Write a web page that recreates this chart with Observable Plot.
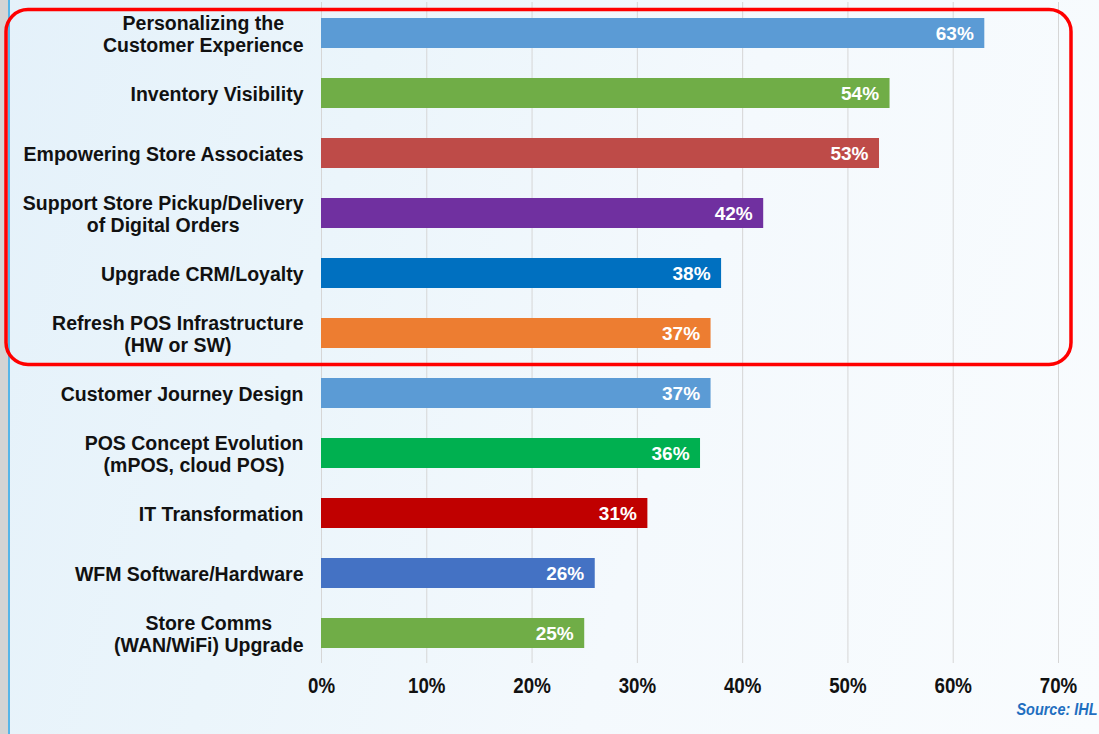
<!DOCTYPE html>
<html>
<head>
<meta charset="utf-8">
<script src="https://cdn.jsdelivr.net/npm/d3@7"></script>
<script src="https://cdn.jsdelivr.net/npm/@observablehq/plot@0.6"></script>
<style>
  html, body { margin: 0; padding: 0; width: 1099px; height: 734px; overflow: hidden; }
  body {
    background: linear-gradient(105deg, #e4f1fa 0%, #ebf5fb 30%, #f4f9fd 60%, #f9fcfe 100%);
    font-family: "Liberation Sans", Arial, sans-serif;
    position: relative;
  }
  #strip { position: absolute; left: 0; top: 0; width: 8px; height: 734px; background: #d4d4d4; }
  #strip2 { position: absolute; left: 8px; top: 0; width: 2px; height: 734px; background: #56b5e8; }
  #chart { position: absolute; left: 0; top: 0; }
  #chart svg { background: transparent; overflow: visible; }
</style>
</head>
<body>
<div id="strip"></div><div id="strip2"></div>
<div id="chart"></div>
<script>
const categories = [
  "Personalizing the\nCustomer Experience",
  "Inventory Visibility",
  "Empowering Store Associates",
  "Support Store Pickup/Delivery\nof Digital Orders",
  "Upgrade CRM/Loyalty",
  "Refresh POS Infrastructure\n(HW or SW)",
  "Customer Journey Design",
  "POS Concept Evolution\n(mPOS, cloud POS)",
  "IT Transformation",
  "WFM Software/Hardware",
  "Store Comms\n(WAN/WiFi) Upgrade"
];
const values = [63, 54, 53, 42, 38, 37, 37, 36, 31, 26, 25];
const colors = ["#5b9bd5", "#70ad47", "#be4b48", "#7030a0", "#0070c0", "#ed7d31",
                "#5b9bd5", "#00b050", "#c00000", "#4472c4", "#70ad47"];
const xTicks = [0, 10, 20, 30, 40, 50, 60, 70];
const highlighted = 6; // first six categories are circled
const sourceText = "Source: IHL";

const data = categories.map((c, i) => ({category: c, value: values[i], color: colors[i]}));

const highlightBox = (index, scales, values_, dims) => {
  const y = scales.y;
  const gap = (y.step() - y.bandwidth()) / 2;
  const y0 = y(categories[0]) - gap;
  const y1 = y(categories[highlighted - 1]) + y.bandwidth() + gap;
  const r = document.createElementNS("http://www.w3.org/2000/svg", "rect");
  r.setAttribute("x", 6);
  r.setAttribute("y", y0 + 6.5);
  r.setAttribute("width", dims.width - 28 - 6);
  r.setAttribute("height", (y1 + 1.5) - (y0 + 6.5));
  r.setAttribute("rx", 22);
  r.setAttribute("fill", "none");
  r.setAttribute("stroke", "#ff0000");
  r.setAttribute("stroke-width", 3.5);
  return r;
};

const chart = Plot.plot({
  width: 1099,
  height: 734,
  marginLeft: 321,
  marginRight: 41,
  marginTop: 2,
  marginBottom: 71,
  style: {background: "transparent", overflow: "visible"},
  x: {domain: [0, 70], axis: null},
  y: {domain: categories, paddingInner: 0.5, paddingOuter: 0.25, axis: null},
  marks: [
    Plot.gridX(xTicks, {stroke: "#d6d6d6", strokeOpacity: 1, strokeWidth: 1}),
    Plot.barX(data, {y: "category", x: "value", fill: "color"}),
    Plot.text(data, {
      y: "category", x: "value", text: d => d.value + "%",
      textAnchor: "end", dx: -11, fill: "white",
      fontSize: 19, fontWeight: "bold", fontFamily: "'Liberation Sans', Arial, sans-serif"
    }),
    Plot.text(data, {
      y: "category", text: "category", frameAnchor: "left",
      textAnchor: "end", dx: -18, lineHeight: 1.13, fill: "#111",
      fontSize: 19.5, fontWeight: "bold", fontFamily: "'Liberation Sans', Arial, sans-serif",
      className: "catlabel"
    }),
    Plot.axisX(xTicks, {
      tickSize: 0, tickPadding: 14, tickFormat: d => d + "%", label: null,
      fontSize: 22, fontWeight: "bold", fill: "#111",
      fontFamily: "'Liberation Sans', Arial, sans-serif",
      className: "xticks"
    }),
    Plot.text([sourceText], {
      frameAnchor: "bottom-right", text: d => d, textAnchor: "end",
      dx: 39, dy: 51, fill: "#1f6fc0", fontSize: 17, fontWeight: "bold", fontStyle: "italic",
      fontFamily: "'Liberation Sans', Arial, sans-serif",
      className: "source"
    }),
    highlightBox
  ]
});

document.getElementById("chart").appendChild(chart);

// center the lines of multi-line category labels, keeping the block right-aligned
chart.querySelectorAll("g.catlabel text").forEach(t => {
  const spans = t.querySelectorAll("tspan");
  if (spans.length > 1) {
    const widths = Array.from(spans, s => s.getComputedTextLength());
    const W = Math.max(...widths);
    spans.forEach((s, i) => s.setAttribute("x", -(W - widths[i]) / 2));
  }
});
// narrow (condensed) look for the axis ticks and the source note
chart.querySelectorAll("g.xticks text, g.source text").forEach(t => {
  const tr = t.getAttribute("transform") || "";
  t.setAttribute("transform", tr + " scale(0.85,1)");
});
</script>
</body>
</html>
